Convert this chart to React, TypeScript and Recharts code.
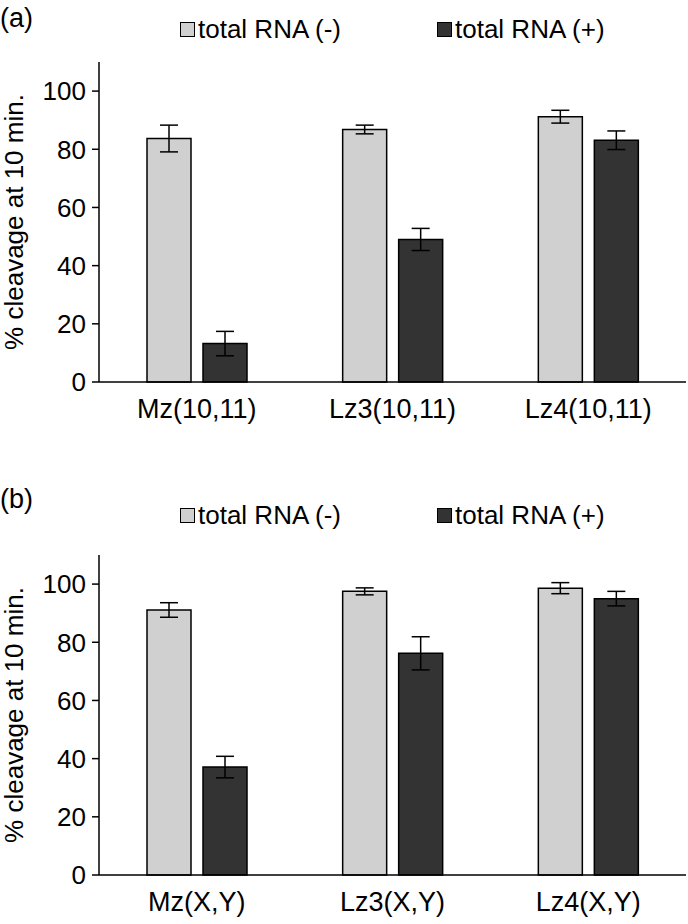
import { Bar, BarChart, ErrorBar, Legend, XAxis, YAxis } from "recharts";

const FONT = "'Liberation Sans', Arial, sans-serif";

const CATEGORIES_A = ["Mz(10,11)", "Lz3(10,11)", "Lz4(10,11)"];
const MINUS_A = [83.7, 86.8, 91.2];
const MINUS_ERR_A = [4.6, 1.5, 2.2];
const PLUS_A = [13.2, 49.0, 83.1];
const PLUS_ERR_A = [4.2, 3.8, 3.2];

const CATEGORIES_B = ["Mz(X,Y)", "Lz3(X,Y)", "Lz4(X,Y)"];
const MINUS_B = [91.1, 97.5, 98.6];
const MINUS_ERR_B = [2.5, 1.2, 1.9];
const PLUS_B = [37.1, 76.2, 95.0];
const PLUS_ERR_B = [3.7, 5.7, 2.5];

const Y_TICKS = [0, 20, 40, 60, 80, 100];
const LIGHT = "#d0d0d0";
const DARK = "#333333";

function buildRows(cats: string[], minus: number[], minusErr: number[], plus: number[], plusErr: number[]) {
  return cats.map((name, i) => ({
    name,
    minus: minus[i],
    minusErr: minusErr[i],
    plus: plus[i],
    plusErr: plusErr[i],
  }));
}

function LegendBox() {
  const item = (left: number, color: string, text: string) => (
    <div style={{ position: "absolute", left, top: 0, display: "flex", alignItems: "center" }}>
      <span style={{ display: "inline-block", width: 13, height: 13, background: color, border: "1px solid #000", marginRight: 3 }} />
      <span style={{ fontSize: 26, lineHeight: "26px", color: "#000", fontFamily: FONT }}>{text}</span>
    </div>
  );
  return (
    <div style={{ position: "relative", width: 688, height: 26 }}>
      {item(180, LIGHT, "total RNA (-)")}
      {item(437, DARK, "total RNA (+)")}
    </div>
  );
}

type PanelProps = {
  rows: ReturnType<typeof buildRows>;
  height: number;
  marginTop: number;
  legendTop: number;
};

function Panel({ rows, height, marginTop, legendTop }: PanelProps) {
  return (
    <BarChart
      width={688}
      height={height}
      data={rows}
      margin={{ top: marginTop, right: 2, left: 0, bottom: 0 }}
      barSize={44}
      barGap={12}
    >
      <Legend
        verticalAlign="middle"
        layout="horizontal"
        wrapperStyle={{ top: legendTop, left: 0, width: 688 }}
        content={() => <LegendBox />}
      />
      <XAxis
        dataKey="name"
        height={height - marginTop - 320}
        tickLine={false}
        tickSize={0}
        tickMargin={17}
        axisLine={{ stroke: "#000", strokeWidth: 1.5 }}
        tick={{ fontSize: 27, fill: "#000", fontFamily: FONT }}
      />
      <XAxis
        xAxisId="top"
        dataKey="name"
        orientation="top"
        height={0}
        tick={false}
        tickLine={false}
        axisLine={{ stroke: "#000", strokeWidth: 1.5 }}
      />
      <YAxis
        domain={[0, 110]}
        ticks={Y_TICKS}
        width={99}
        tickSize={7}
        tickMargin={6}
        axisLine={{ stroke: "#000", strokeWidth: 1.5 }}
        tickLine={{ stroke: "#000", strokeWidth: 1.5 }}
        tick={{ fontSize: 26, fill: "#000", fontFamily: FONT }}
        label={{
          value: "% cleavage at 10 min.",
          angle: -90,
          position: "insideLeft",
          offset: 14,
          style: { textAnchor: "middle", fontSize: 26, fill: "#000", fontFamily: FONT },
        }}
      />
      <YAxis
        yAxisId="right"
        orientation="right"
        domain={[0, 110]}
        width={0}
        tick={false}
        tickLine={false}
        axisLine={{ stroke: "#000", strokeWidth: 1.5 }}
      />
      <Bar dataKey="minus" fill={LIGHT} stroke="#000" strokeWidth={1.5} isAnimationActive={false}>
        <ErrorBar dataKey="minusErr" width={9} stroke="#000" strokeWidth={1.5} direction="y" isAnimationActive={false} />
      </Bar>
      <Bar dataKey="plus" fill={DARK} stroke="#000" strokeWidth={1.5} isAnimationActive={false}>
        <ErrorBar dataKey="plusErr" width={9} stroke="#000" strokeWidth={1.5} direction="y" isAnimationActive={false} />
      </Bar>
    </BarChart>
  );
}

export default function App() {
  const rowsA = buildRows(CATEGORIES_A, MINUS_A, MINUS_ERR_A, PLUS_A, PLUS_ERR_A);
  const rowsB = buildRows(CATEGORIES_B, MINUS_B, MINUS_ERR_B, PLUS_B, PLUS_ERR_B);
  return (
    <div style={{ position: "absolute", left: 0, top: 0, width: 688, height: 924, background: "#fff", fontFamily: FONT }}>
      <div style={{ position: "absolute", left: 0, top: 0 }}>
        <Panel rows={rowsA} height={450} marginTop={62} legendTop={16} />
      </div>
      <div style={{ position: "absolute", left: 0, top: 462 }}>
        <Panel rows={rowsB} height={462} marginTop={93} legendTop={40} />
      </div>
      <div style={{ position: "absolute", left: 0, top: 3, fontSize: 27, lineHeight: "30px" }}>(a)</div>
      <div style={{ position: "absolute", left: 0, top: 484, fontSize: 27, lineHeight: "30px" }}>(b)</div>
    </div>
  );
}
